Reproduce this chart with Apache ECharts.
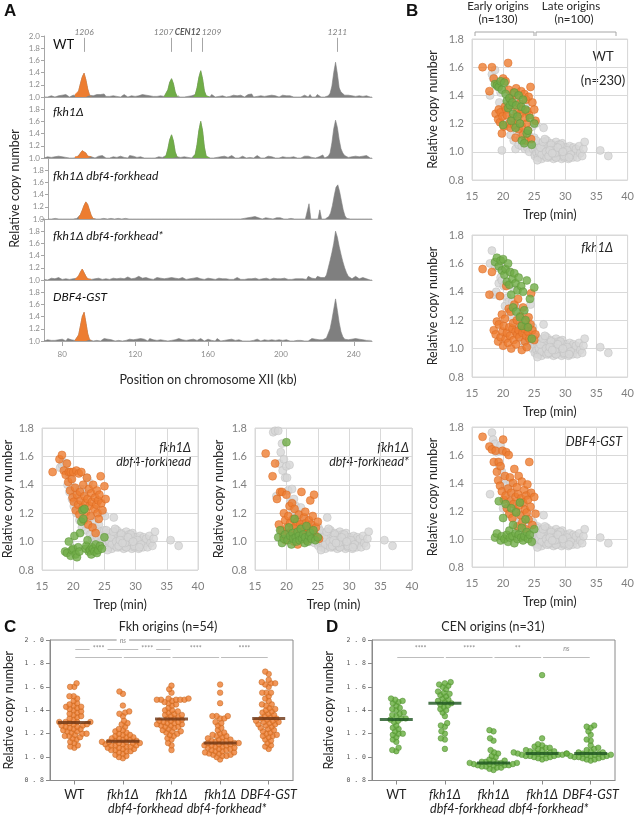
<!DOCTYPE html>
<html>
<head>
<meta charset="utf-8">
<script src="https://cdn.jsdelivr.net/npm/echarts@6/dist/echarts.min.js"></script>
<style>
  html, body { margin: 0; padding: 0; background: #fff; }
  #main { width: 637px; height: 815px; }
</style>
</head>
<body>
<div id="main"></div>
<script>
// ---------- panel A : copy number along chromosome XII (1 kb bins from 70 kb) ----------
const kbStart = 70;
const kbTicks = [80, 120, 160, 200, 240];
const trackLabels = ['WT', 'fkh1Δ', 'fkh1Δ dbf4-forkhead', 'fkh1Δ dbf4-forkhead*', 'DBF4-GST'];
const originNames = ['1206', '1207', 'CEN12', '1209', '1211'];
const originKb = [92, 140, 151, 157, 231];

const trackWT = [
  1.00,1.01,1.00,1.00,1.02,1.01,1.00,1.03,1.02,1.04,
  1.03,1.01,1.04,1.02,1.00,1.01,1.03,1.04,1.02,1.10,
  1.22,1.33,1.39,1.28,1.13,1.03,1.00,1.02,1.03,1.04,
  1.02,1.04,1.03,1.05,1.01,1.00,1.01,1.00,1.02,1.00,
  1.01,1.03,1.00,1.02,1.04,1.01,1.00,1.03,1.02,1.00,
  1.01,1.00,1.02,1.03,1.04,1.01,1.03,1.00,1.02,1.00,
  1.01,1.04,1.01,1.00,1.02,1.00,1.01,1.03,1.12,1.24,
  1.30,1.22,1.08,1.01,1.02,1.00,1.01,1.00,1.02,1.01,
  1.00,1.02,1.00,1.04,1.15,1.32,1.43,1.30,1.10,1.02,
  1.03,1.00,1.04,1.01,1.00,1.03,1.01,1.00,1.02,1.01,
  1.00,1.02,1.01,1.00,1.03,1.01,1.02,1.00,1.03,1.01,
  1.00,1.02,1.04,1.01,1.05,1.00,1.02,1.01,1.00,1.02,
  1.04,1.01,1.00,1.02,1.01,1.03,1.00,1.02,1.01,1.00,
  1.01,1.03,1.00,1.02,1.05,1.02,1.01,1.00,1.03,1.00,
  1.01,1.00,1.02,1.03,1.01,1.00,1.04,1.00,1.01,1.00,
  1.04,1.01,1.00,1.02,1.00,1.01,1.02,1.06,1.18,1.40,
  1.57,1.38,1.15,1.08,1.06,1.03,1.01,1.03,1.00,1.02,
  1.03,1.01,1.00,1.02,1.03,1.01,1.04,1.02,1.01,1.00,
  1.00
];
const trackFkh1 = [
  1.00,1.01,1.02,1.00,1.01,1.00,1.02,1.01,1.03,1.04,
  1.02,1.03,1.01,1.04,1.00,1.01,1.00,1.02,1.01,1.03,
  1.08,1.12,1.13,1.08,1.03,1.00,1.02,1.01,1.00,1.01,
  1.03,1.01,1.04,1.02,1.00,1.01,1.00,1.03,1.02,1.00,
  1.01,1.02,1.03,1.00,1.01,1.03,1.00,1.04,1.01,1.03,
  1.04,1.01,1.00,1.02,1.01,1.00,1.02,1.00,1.01,1.00,
  1.03,1.00,1.01,1.02,1.00,1.01,1.00,1.04,1.15,1.30,
  1.38,1.28,1.10,1.02,1.00,1.01,1.00,1.02,1.00,1.01,
  1.03,1.00,1.02,1.06,1.22,1.45,1.60,1.45,1.18,1.03,
  1.01,1.00,1.02,1.00,1.03,1.01,1.00,1.02,1.01,1.03,
  1.00,1.01,1.02,1.04,1.01,1.00,1.02,1.00,1.01,1.03,
  1.01,1.00,1.02,1.01,1.03,1.00,1.02,1.04,1.01,1.00,
  1.02,1.00,1.01,1.03,1.00,1.02,1.01,1.00,1.03,1.00,
  1.01,1.02,1.00,1.01,1.03,1.01,1.00,1.02,1.01,1.00,
  1.02,1.00,1.01,1.03,1.04,1.03,1.00,1.01,1.02,1.00,
  1.01,1.02,1.00,1.05,1.00,1.02,1.03,1.08,1.25,1.48,
  1.62,1.50,1.30,1.15,1.08,1.04,1.02,1.01,1.00,1.02,
  1.01,1.03,1.00,1.02,1.05,1.03,1.01,1.04,1.02,1.00,
  1.00
];
const trackDbf4fh = [
  1.00,1.01,1.00,1.02,1.01,1.02,1.00,1.01,1.00,1.00,
  1.00,1.01,1.00,1.00,1.00,1.00,1.01,1.03,1.07,1.14,
  1.22,1.28,1.24,1.15,1.06,1.01,1.00,1.00,1.01,1.00,
  1.00,1.01,1.00,1.00,1.00,1.01,1.00,1.00,1.00,1.01,
  1.00,1.00,1.00,1.01,1.00,1.00,1.00,1.00,1.00,1.00,
  1.00,1.00,1.01,1.00,1.00,1.00,1.00,1.00,1.00,1.00,
  1.00,1.00,1.00,1.00,1.00,1.00,1.00,1.00,1.00,1.00,
  1.00,1.00,1.00,1.00,1.00,1.00,1.00,1.00,1.00,1.00,
  1.00,1.00,1.00,1.00,1.00,1.00,1.00,1.00,1.00,1.00,
  1.00,1.00,1.00,1.00,1.00,1.00,1.00,1.00,1.00,1.00,
  1.00,1.00,1.00,1.00,1.00,1.00,1.00,1.00,1.00,1.01,
  1.01,1.02,1.01,1.03,1.02,1.04,1.03,1.02,1.01,1.00,
  1.01,1.02,1.03,1.01,1.02,1.00,1.03,1.02,1.04,1.02,
  1.01,1.00,1.01,1.00,1.02,1.01,1.00,1.00,1.00,1.00,
  1.00,1.00,1.01,1.00,1.00,1.25,1.00,1.00,1.00,1.00,
  1.00,1.15,1.00,1.00,1.00,1.00,1.04,1.10,1.22,1.38,
  1.52,1.56,1.45,1.30,1.15,1.05,1.01,1.00,1.00,1.00,
  1.00,1.00,1.00,1.01,1.00,1.00,1.00,1.01,1.00,1.00,
  1.00
];
const trackDbf4fhStar = [
  1.01,1.02,1.00,1.01,1.03,1.01,1.02,1.00,1.04,1.02,
  1.01,1.03,1.02,1.04,1.01,1.00,1.02,1.01,1.03,1.07,
  1.13,1.18,1.12,1.06,1.02,1.03,1.01,1.04,1.02,1.01,
  1.03,1.02,1.01,1.03,1.02,1.04,1.01,1.02,1.03,1.01,
  1.02,1.04,1.03,1.01,1.02,1.04,1.05,1.03,1.02,1.01,
  1.03,1.04,1.06,1.05,1.03,1.02,1.04,1.03,1.02,1.03,
  1.01,1.03,1.04,1.02,1.03,1.04,1.02,1.01,1.03,1.02,
  1.04,1.02,1.03,1.01,1.02,1.03,1.04,1.02,1.01,1.03,
  1.02,1.01,1.03,1.02,1.04,1.01,1.02,1.03,1.01,1.02,
  1.03,1.01,1.02,1.04,1.01,1.02,1.03,1.01,1.02,1.01,
  1.02,1.03,1.01,1.02,1.01,1.03,1.04,1.02,1.01,1.02,
  1.01,1.03,1.02,1.01,1.02,1.01,1.03,1.02,1.01,1.03,
  1.02,1.01,1.03,1.02,1.01,1.02,1.03,1.01,1.02,1.01,
  1.02,1.01,1.03,1.02,1.01,1.02,1.01,1.03,1.02,1.01,
  1.02,1.01,1.02,1.03,1.01,1.06,1.05,1.03,1.04,1.02,
  1.06,1.05,1.04,1.06,1.04,1.08,1.20,1.32,1.45,1.60,
  1.80,1.70,1.55,1.42,1.30,1.20,1.12,1.06,1.03,1.02,
  1.04,1.06,1.03,1.02,1.05,1.04,1.03,1.02,1.01,1.00,
  1.00
];
const trackGst = [
  1.00,1.01,1.02,1.00,1.01,1.03,1.01,1.00,1.02,1.01,
  1.03,1.02,1.00,1.04,1.01,1.02,1.00,1.01,1.03,1.10,
  1.25,1.40,1.47,1.30,1.12,1.02,1.01,1.00,1.02,1.01,
  1.03,1.00,1.02,1.04,1.01,1.03,1.00,1.02,1.01,1.00,
  1.02,1.01,1.03,1.00,1.02,1.01,1.00,1.03,1.04,1.02,
  1.05,1.03,1.02,1.04,1.01,1.03,1.02,1.00,1.04,1.01,
  1.02,1.03,1.01,1.00,1.02,1.04,1.01,1.03,1.00,1.02,
  1.01,1.03,1.02,1.00,1.04,1.01,1.02,1.03,1.01,1.00,
  1.02,1.01,1.03,1.00,1.01,1.02,1.04,1.01,1.00,1.02,
  1.03,1.00,1.01,1.02,1.00,1.04,1.01,1.00,1.02,1.01,
  1.00,1.02,1.01,1.03,1.00,1.01,1.00,1.02,1.01,1.00,
  1.02,1.00,1.01,1.00,1.02,1.01,1.00,1.03,1.01,1.00,
  1.01,1.02,1.00,1.01,1.00,1.02,1.00,1.01,1.00,1.02,
  1.00,1.01,1.00,1.02,1.01,1.00,1.01,1.00,1.02,1.01,
  1.00,1.01,1.02,1.00,1.01,1.00,1.02,1.04,1.05,1.03,
  1.04,1.02,1.01,1.02,1.03,1.05,1.08,1.20,1.35,1.52,
  1.69,1.50,1.30,1.15,1.07,1.03,1.01,1.02,1.00,1.03,
  1.02,1.04,1.01,1.03,1.04,1.02,1.03,1.01,1.00,1.01,
  1.00
];
const tracks = [trackWT, trackFkh1, trackDbf4fh, trackDbf4fhStar, trackGst];
// coloured peak stretches (kb)
const peakFrom = [87, 136, 152];
const peakTo = [96, 144, 161];

// ---------- panel B / C / D : per-origin replication data ----------
const strainNames = ['WT', 'fkh1Δ', 'fkh1Δ\ndbf4-forkhead', 'fkh1Δ\ndbf4-forkhead*', 'DBF4-GST'];

// Fkh-activated origins (n=54)
const trepFkh = [16.7,17.8,18.2,18.5,18.8,19.0,19.2,19.3,19.5,19.6,19.8,19.9,20.0,20.1,20.3,20.4,20.5,20.6,20.8,20.9,
  21.0,21.1,21.2,21.3,21.5,21.6,21.7,21.8,22.0,22.1,22.2,22.3,22.4,22.5,22.6,22.8,22.9,23.0,23.1,23.2,
  23.4,23.5,23.6,23.7,23.8,23.9,24.0,24.1,24.2,24.4,24.5,24.7,25.0,25.2];
const fkhWT = [1.60,1.43,1.60,1.52,1.27,1.48,1.23,1.30,1.21,1.28,1.13,1.25,1.52,1.18,1.32,1.50,1.30,1.26,1.63,1.44,
  1.20,1.38,1.17,1.36,1.24,1.33,1.42,1.19,1.10,1.45,1.28,1.22,1.40,1.16,1.34,1.27,1.43,1.18,1.30,1.12,
  1.41,1.24,1.08,1.37,1.20,1.29,1.15,1.39,1.26,1.46,1.09,1.35,1.30,1.22];
const fkhFkh1 = [1.56,1.38,1.54,1.13,1.10,1.19,1.05,1.17,1.37,1.08,1.24,1.12,1.02,1.16,1.21,1.07,1.44,1.11,1.04,1.28,
  1.15,1.09,1.26,1.00,1.14,1.18,1.06,1.31,1.12,1.03,1.20,1.10,1.35,1.13,1.08,1.23,1.16,0.99,1.11,1.29,
  1.14,1.05,1.19,1.09,1.01,1.15,1.12,1.22,1.07,1.17,1.39,1.13,1.06,1.10];
const fkhDbf4fh = [1.49,1.58,1.61,1.50,1.47,1.55,1.42,1.49,1.36,1.49,1.44,1.31,1.49,1.28,1.38,1.22,1.50,1.33,1.26,1.48,
  1.19,1.35,1.29,1.49,1.24,1.40,1.15,1.32,1.27,1.21,1.45,1.30,1.12,1.37,1.25,1.18,1.34,1.28,1.10,1.40,
  1.23,1.31,1.06,1.26,1.36,1.20,1.29,1.16,1.33,1.46,1.27,1.22,1.39,1.30];
const fkhDbf4fhStar = [1.62,1.46,1.55,1.30,1.12,1.35,1.08,1.35,1.04,1.20,1.15,1.01,1.33,1.10,1.18,1.06,1.25,1.13,1.03,1.27,
  1.09,1.16,1.00,1.23,1.11,1.05,1.14,0.98,1.19,1.07,1.12,1.02,1.35,1.10,1.04,1.17,1.08,1.21,1.13,1.01,
  1.11,1.06,1.15,1.09,1.29,1.03,1.12,1.07,1.18,1.33,1.05,1.10,1.14,1.02];
const fkhGst = [1.73,1.66,1.64,1.55,1.63,1.48,1.42,1.55,1.38,1.52,1.34,1.63,1.71,1.28,1.45,1.31,1.62,1.22,1.36,1.60,
  1.18,1.44,1.27,1.33,1.15,1.40,1.25,1.50,1.30,1.20,1.37,1.09,1.32,1.45,1.24,1.17,1.29,1.41,1.12,1.26,
  1.35,1.21,1.07,1.31,1.19,1.39,1.28,1.14,1.55,1.23,1.33,1.10,1.30,1.18];

// centromere-proximal origins (n=31)
const trepCen = [18.7,19.0,19.3,19.6,19.8,20.0,20.2,20.4,20.6,20.8,21.0,21.1,21.3,21.5,21.6,21.8,22.0,22.1,22.3,22.5,
  22.7,22.9,23.0,23.2,23.4,23.6,23.8,24.0,24.3,24.6,25.0];
const cenWT = [1.48,1.47,1.46,1.50,1.44,1.19,1.49,1.41,1.36,1.31,1.38,1.33,1.22,1.35,1.27,1.42,1.17,1.33,1.25,1.40,
  1.20,1.32,1.08,1.37,1.06,1.30,1.13,1.15,1.24,1.05,1.20];
const cenFkh1 = [1.61,1.64,1.58,1.62,1.55,1.63,1.52,1.56,1.47,1.60,1.45,1.54,1.38,1.49,1.29,1.53,1.46,1.26,1.41,1.50,
  1.22,1.44,1.16,1.40,1.27,1.20,1.48,1.15,1.35,1.07,1.43];
const cenDbf4fh = [0.93,0.92,1.00,0.90,0.94,0.95,1.04,0.91,0.89,0.96,0.93,1.06,1.14,1.22,1.16,1.23,0.95,0.97,1.01,0.93,
  0.94,0.91,0.96,0.95,0.93,0.98,0.92,0.94,0.97,0.95,1.03];
const cenDbf4fhStar = [1.03,1.08,0.99,1.02,1.05,1.70,1.01,1.10,1.04,0.98,1.06,1.02,1.16,1.03,1.00,1.07,1.04,1.01,1.09,1.02,
  1.05,0.99,1.03,1.11,1.00,1.04,1.06,1.02,1.08,1.01,1.03];
const cenGst = [1.01,1.04,1.27,0.99,1.02,1.15,1.00,1.25,1.03,0.98,1.06,1.01,1.22,1.02,1.10,0.97,1.04,1.19,1.00,1.03,
  1.26,1.01,1.08,0.99,1.02,1.14,1.05,1.00,1.03,0.98,1.07];

// other early origins (grey, n=45)
const trepEarly = [17.9,18.2,18.4,18.7,18.9,19.1,19.3,19.4,19.6,19.8,20.0,20.1,20.3,20.5,20.7,20.9,21.0,21.2,21.4,21.5,
  21.7,21.9,22.0,22.2,22.3,22.5,22.7,22.8,23.0,23.1,23.3,23.5,23.6,23.8,23.9,24.1,24.2,24.4,24.5,24.7,
  24.8,25.0,25.1,25.3,25.5];
const earlyWT = [1.40,1.55,1.52,1.58,1.50,1.46,1.48,1.35,1.42,1.01,1.30,1.45,1.24,1.34,1.18,1.40,1.28,1.12,1.22,1.36,
  1.08,1.26,1.02,1.15,1.38,1.05,1.20,1.10,1.04,1.14,1.06,1.02,1.33,1.09,1.03,1.12,1.00,1.07,1.05,1.18,
  1.02,1.10,0.98,1.20,1.04];
const earlyFkh1 = [1.60,1.69,1.38,1.58,1.40,1.57,1.46,1.37,1.50,1.48,1.57,1.44,1.30,1.45,1.36,1.33,1.26,1.54,1.22,1.33,
  1.42,1.18,1.30,1.15,1.12,1.26,1.08,1.20,1.14,1.05,1.25,1.10,1.02,1.08,1.20,1.04,1.12,1.31,1.06,1.00,
  1.15,1.03,1.08,0.97,1.05];
const earlyDbf4fh = [1.52,1.54,1.56,1.50,1.55,1.40,1.47,1.35,1.44,1.30,1.38,1.25,1.33,1.20,1.28,1.36,1.15,1.37,1.10,1.22,
  1.35,1.18,1.08,1.45,1.12,1.42,1.05,1.17,1.02,1.10,1.14,1.06,1.00,1.09,1.03,1.12,0.99,1.07,1.04,1.20,
  1.01,1.08,1.18,1.03,1.06];
const earlyDbf4fhStar = [1.77,1.78,1.32,1.78,1.55,1.63,1.69,1.50,1.58,1.45,1.53,1.45,1.36,1.54,1.28,1.37,1.22,1.30,1.18,1.25,
  1.12,1.20,1.15,1.08,1.24,1.10,1.05,1.17,1.02,1.12,1.07,1.04,1.14,1.00,1.09,1.06,1.02,1.11,0.99,1.05,
  1.08,1.01,1.10,1.03,1.06];
const earlyGst = [1.32,1.76,1.71,1.68,1.62,1.55,1.63,1.52,1.67,1.48,1.22,1.43,1.38,1.30,1.36,1.28,1.18,1.40,1.25,1.15,
  1.33,1.20,1.10,1.27,1.12,1.05,1.18,1.08,1.14,1.03,1.25,1.07,1.10,1.02,1.16,1.05,1.32,1.00,1.08,1.04,
  1.12,0.99,1.06,1.02,1.09];

// late origins (grey, n=100) — unchanged between strains
const trepLate = [25.1,25.2,25.3,25.4,25.5,25.6,25.7,25.8,25.9,26.0,26.1,26.2,26.3,26.4,26.5,26.6,26.7,26.8,26.9,27.0,
  27.1,27.2,27.3,27.4,27.5,27.6,27.7,27.8,27.9,28.0,28.1,28.2,28.3,28.4,28.5,28.6,28.7,28.8,28.9,29.0,
  25.3,25.8,26.2,26.6,27.0,27.4,27.8,28.2,28.6,29.0,29.1,29.2,29.3,29.4,29.5,29.6,29.7,29.8,29.9,30.0,
  25.5,26.0,26.4,26.9,27.3,27.7,28.1,28.5,28.9,29.4,30.1,30.2,30.4,30.5,30.7,30.8,31.0,31.2,31.3,31.5,
  26.7,27.5,28.3,29.2,29.8,30.3,30.9,31.7,31.9,32.2,32.4,32.7,32.9,33.1,35.6,36.9,27.9,28.8,29.6,30.6];
const cnLate = [0.97,1.02,1.05,0.99,1.03,0.96,1.01,1.04,0.98,1.06,1.00,0.95,1.03,0.99,1.17,1.02,0.97,1.05,1.00,1.08,
  0.98,1.03,0.96,1.01,1.04,0.99,1.06,0.97,1.02,1.00,0.95,1.04,0.98,1.01,1.07,0.96,1.03,0.99,1.05,1.00,
  1.08,1.00,0.98,1.04,0.96,1.02,1.00,0.97,1.03,0.99,1.04,0.97,1.01,0.95,1.06,0.99,1.03,0.96,1.02,0.98,
  0.94,1.03,1.07,1.00,0.97,1.05,1.01,0.96,1.00,1.02,1.03,0.97,1.00,0.95,1.04,0.98,1.01,0.96,1.03,0.99,
  1.09,1.01,0.99,1.05,0.97,1.01,0.98,1.02,0.96,1.04,0.99,0.97,1.02,1.07,1.01,0.97,0.99,1.03,1.00,0.96];

const fkhByStrain = [fkhWT, fkhFkh1, fkhDbf4fh, fkhDbf4fhStar, fkhGst];
const cenByStrain = [cenWT, cenFkh1, cenDbf4fh, cenDbf4fhStar, cenGst];
const earlyByStrain = [earlyWT, earlyFkh1, earlyDbf4fh, earlyDbf4fhStar, earlyGst];

// ---------- styling ----------
const ORANGE = '#ED7D31', GREEN = '#70AD47', GREY = '#7f7f7f';
const FONT = 'Lato';

const grids = [], xAxes = [], yAxes = [], series = [];

// panel A tracks
tracks.forEach((tr, i) => {
  grids.push({ left: 44, width: 328, top: 36 + 61 * i, height: 61 });
  const last = i === tracks.length - 1;
  xAxes.push({
    gridIndex: i, type: 'value', min: 70, max: 250,
    axisLine: { show: true, onZero: false, lineStyle: { color: '#a6a6a6', width: 1 } },
    axisTick: { show: last, customValues: kbTicks, length: 5, lineStyle: { color: '#a6a6a6' } },
    axisLabel: { show: last, customValues: kbTicks, fontSize: 8, color: '#8c8c8c', margin: 9, fontFamily: FONT },
    splitLine: { show: false },
    name: last ? 'Position on chromosome XII (kb)' : '',
    nameLocation: 'middle', nameGap: 32,
    nameTextStyle: { fontSize: 12.5, color: '#262626', fontFamily: FONT }
  });
  yAxes.push({
    gridIndex: i, type: 'value', min: 1, max: 2, interval: 0.2,
    axisLine: { show: true, onZero: false, lineStyle: { color: '#a6a6a6' } },
    axisTick: { show: true, length: 3, lineStyle: { color: '#a6a6a6' } },
    axisLabel: { fontSize: 8, color: '#8c8c8c', margin: 4, fontFamily: FONT,
      formatter: v => (i > 0 && v > 1.9) ? '' : v.toFixed(1) },
    splitLine: { show: false },
    name: i === 2 ? 'Relative copy number' : '',
    nameLocation: 'middle', nameGap: 27,
    nameTextStyle: { fontSize: 12.5, color: '#262626', fontFamily: FONT }
  });
  const pts = tr.map((v, k) => [kbStart + k, v]);
  const s = {
    type: 'line', xAxisIndex: i, yAxisIndex: i, data: pts, symbol: 'none',
    lineStyle: { width: 0.6, color: GREY }, areaStyle: { color: GREY, opacity: 1, origin: 'start' }, z: 2
  };
  if (i === 0) {
    s.markLine = {
      silent: true, symbol: 'none', animation: false,
      lineStyle: { color: '#a6a6a6', width: 1, type: 'solid' },
      label: { show: true, position: 'end', distance: 1, formatter: '{b}', color: '#7f7f7f',
        fontSize: 8.5, fontStyle: 'italic', fontFamily: FONT },
      data: originNames.map((n, k) => {
        const lab = { offset: [[0, 0], [-8, 0], [-4, 0], [9, 0], [0, 0]][k] };
        if (n === 'CEN12') { lab.fontWeight = 'bold'; lab.color = '#595959'; }
        return [{ coord: [originKb[k], 1.74], name: n, label: lab }, { coord: [originKb[k], 1.97] }];
      })
    };
  }
  series.push(s);
  // coloured peaks
  const overlay = [[0, ORANGE, [0, 1, 2, 3, 4]], [1, GREEN, [0, 1]], [2, GREEN, [0, 1]]];
  overlay.forEach(([p, col, tl]) => {
    if (!tl.includes(i)) return;
    series.push({
      type: 'line', xAxisIndex: i, yAxisIndex: i, symbol: 'none', z: 3,
      data: pts.filter(d => d[0] >= peakFrom[p] && d[0] <= peakTo[p]),
      lineStyle: { width: 0.6, color: col }, areaStyle: { color: col, opacity: 1, origin: 'start' }
    });
  });
});

// scatter plots: [left, top, width, height, strain, yNameGap]
const scatterBoxes = [
  [472, 39, 156, 141, 0, 33],
  [472, 235, 156, 142, 1, 33],
  [472, 427, 156, 140, 4, 33],
  [42, 428, 156, 142, 2, 25],
  [255, 428, 157, 142, 3, 30]
];
scatterBoxes.forEach(([l, t, w, h, st, gap]) => {
  const gi = grids.length;
  grids.push({ left: l, top: t, width: w, height: h, show: true, borderColor: '#d9d9d9', borderWidth: 1 });
  xAxes.push({
    gridIndex: gi, type: 'value', min: 15, max: 40, interval: 5,
    axisLine: { show: false, onZero: false }, axisTick: { show: false },
    axisLabel: { color: '#7f7f7f', fontSize: 11, margin: 11, fontFamily: FONT },
    splitLine: { show: true, lineStyle: { color: '#d9d9d9' } },
    name: 'Trep (min)', nameLocation: 'middle', nameGap: 28,
    nameTextStyle: { fontSize: 12.5, color: '#262626', fontFamily: FONT }
  });
  yAxes.push({
    gridIndex: gi, type: 'value', min: 0.8, max: 1.8, interval: 0.2,
    axisLine: { show: false, onZero: false }, axisTick: { show: false },
    axisLabel: { color: '#7f7f7f', fontSize: 11, margin: 8, fontFamily: FONT, formatter: v => v.toFixed(1) },
    splitLine: { show: true, lineStyle: { color: '#d9d9d9' } },
    name: 'Relative copy number', nameLocation: 'middle', nameGap: gap,
    nameTextStyle: { fontSize: 12.5, color: '#262626', fontFamily: FONT }
  });
  const grey = trepEarly.map((x, k) => [x, earlyByStrain[st][k]])
    .concat(trepLate.map((x, k) => [x, cnLate[k]]));
  const base = { type: 'scatter', xAxisIndex: gi, yAxisIndex: gi, symbolSize: 8 };
  series.push(Object.assign({}, base, { data: grey, z: 2,
    itemStyle: { color: '#d6d6d6', borderColor: '#bdbdbd', borderWidth: 0.6 } }));
  series.push(Object.assign({}, base, { data: trepFkh.map((x, k) => [x, fkhByStrain[st][k]]), z: 3,
    itemStyle: { color: ORANGE, borderColor: '#d9671f', borderWidth: 0.6 } }));
  series.push(Object.assign({}, base, { data: trepCen.map((x, k) => [x, cenByStrain[st][k]]), z: 4,
    itemStyle: { color: GREEN, borderColor: '#5a9437', borderWidth: 0.6 } }));
});

// beeswarm layout (pixel space); d is the packing distance
function swarm(values, col, pxY, pxX, d) {
  const sorted = values.slice().sort((a, b) => a - b);
  const placed = [];
  sorted.forEach(v => {
    const y = v * pxY;
    const forb = [];
    placed.forEach(q => {
      const dy = Math.abs(q.y - y);
      if (dy < d) { const dx = Math.sqrt(d * d - dy * dy); forb.push([q.x - dx, q.x + dx]); }
    });
    const cands = [0];
    forb.forEach(f => cands.push(f[0], f[1]));
    cands.sort((a, b) => Math.abs(a) - Math.abs(b));
    let x = 0;
    for (const c of cands) {
      if (forb.every(f => c <= f[0] + 1e-6 || c >= f[1] - 1e-6)) { x = c; break; }
    }
    placed.push({ x, y, v });
  });
  return placed.map(p => [col + p.x / pxX, p.v]);
}
const median = arr => { const s = arr.slice().sort((a, b) => a - b); const m = s.length >> 1; return s.length % 2 ? s[m] : (s[m - 1] + s[m]) / 2; };

const sigC = [[0, 2, 1.923, 'ns'], [0, 1, 1.855, '****'], [1, 2, 1.855, '****'], [2, 3, 1.855, '****'], [3, 4, 1.855, '****']];
const sigD = [[0, 1, 1.855, '****'], [1, 2, 1.855, '****'], [2, 3, 1.855, '**'], [3, 4, 1.855, 'ns']];

const catRich = {
  n: { fontSize: 12.5, color: '#222', fontFamily: FONT, lineHeight: 14 },
  i: { fontSize: 12.5, color: '#222', fontFamily: FONT, fontStyle: 'italic', lineHeight: 14 },
  l: { fontSize: 12.5, color: '#222', fontFamily: FONT, fontStyle: 'italic', lineHeight: 14, padding: [0, 52, 0, 0] },
  r: { fontSize: 12.5, color: '#222', fontFamily: FONT, fontStyle: 'italic', lineHeight: 14, padding: [0, 0, 0, 13] }
};
function catLabel(v, idx) {
  if (idx === 0) return '{n|' + v + '}';
  const parts = v.split('\n');
  if (parts.length === 1) return '{i|' + v + '}';
  return '{i|' + parts[0] + '}\n' + (idx === 2 ? '{l|' : '{r|') + parts[1] + '}';
}

[[50, ORANGE, '#c0641c', '#6b3514', fkhByStrain, sigC, 35],
 [372, '#66AE3E', '#4c8a2c', '#1d5420', cenByStrain, sigD, 37]].forEach(([l, fill, border, medCol, groups, sig, gap]) => {
  const gi = grids.length;
  grids.push({ left: l, top: 640, width: 243, height: 141, show: true, borderColor: '#8a8a8a', borderWidth: 1 });
  xAxes.push({
    gridIndex: gi, type: 'category', data: strainNames,
    axisLine: { show: true, onZero: false, lineStyle: { color: '#8a8a8a' } },
    axisTick: { show: true, alignWithLabel: true, length: 4, lineStyle: { color: '#8a8a8a' } },
    axisLabel: { interval: 0, margin: 7, formatter: catLabel, rich: catRich }
  });
  const xVal = xAxes.length;
  xAxes.push({ gridIndex: gi, type: 'value', min: -0.5, max: 4.5, show: false });
  const yi = yAxes.length;
  yAxes.push({
    gridIndex: gi, type: 'value', min: 0.8, max: 2.0, interval: 0.2,
    axisLine: { show: true, onZero: false, lineStyle: { color: '#8a8a8a' } },
    axisTick: { show: true, length: 4, lineStyle: { color: '#8a8a8a' } },
    axisLabel: { fontSize: 6.5, color: '#555', fontFamily: 'DejaVu Sans Mono', margin: 6,
      formatter: v => v.toFixed(1).split('').join(' ') },
    splitLine: { show: false },
    name: 'Relative copy number', nameLocation: 'middle', nameGap: gap,
    nameTextStyle: { fontSize: 12.5, color: '#262626', fontFamily: FONT }
  });
  const pts = [];
  groups.forEach((g, c) => swarm(g, c, 117.5, 48.6, 4.2).forEach(p => pts.push(p)));
  series.push({ type: 'scatter', xAxisIndex: xVal, yAxisIndex: yi, data: pts, symbolSize: 5.6, z: 2,
    itemStyle: { color: fill, borderColor: border, borderWidth: 0.6 } });
  series.push({
    type: 'scatter', xAxisIndex: xVal, yAxisIndex: yi, symbol: 'rect', symbolSize: [33, 3], z: 4,
    data: groups.map((g, c) => [c, median(g)]), itemStyle: { color: medCol },
    markLine: {
      silent: true, symbol: 'none', animation: false,
      lineStyle: { color: '#bdbdbd', width: 1, type: 'solid' },
      label: { show: true, position: 'middle', fontSize: 7, color: '#8c8c8c', fontFamily: FONT,
        backgroundColor: '#fff', padding: [0, 3] },
      data: sig.map(([a, b, y, t]) => [
        { coord: [a + 0.02, y], label: { formatter: t, fontStyle: t === 'ns' ? 'italic' : 'normal' } },
        { coord: [b - 0.02, y] }
      ])
    }
  });
});

// ---------- annotations ----------
const txt = (x, y, text, font, align, fill) => ({
  type: 'text', x, y, silent: true,
  style: { text, font, fill: fill || '#111', align: align || 'left', verticalAlign: 'middle' }
});
const graphic = [
  txt(4, 11, 'A', 'bold 17px Arial'),
  txt(406, 11, 'B', 'bold 17px Arial'),
  txt(4, 627, 'C', 'bold 17px Arial'),
  txt(326, 627, 'D', 'bold 17px Arial'),
  txt(53, 45, trackLabels[0], '13px ' + FONT),
  txt(53, 112, trackLabels[1], 'italic 12px ' + FONT),
  txt(53, 176, trackLabels[2], 'italic 12px ' + FONT),
  txt(53, 236, trackLabels[3], 'italic 12px ' + FONT),
  txt(53, 297, trackLabels[4], 'italic 12px ' + FONT),
  txt(498, 6, 'Early origins', '11.5px ' + FONT, 'center', '#262626'),
  txt(498, 19, '(n=130)', '11.5px ' + FONT, 'center', '#262626'),
  txt(571, 6, 'Late origins', '11.5px ' + FONT, 'center', '#262626'),
  txt(574, 19, '(n=100)', '11.5px ' + FONT, 'center', '#262626'),
  { type: 'polyline', silent: true, shape: { points: [[475, 36], [475, 32], [534, 32], [534, 36]] },
    style: { stroke: '#a6a6a6', lineWidth: 1, fill: null } },
  { type: 'polyline', silent: true, shape: { points: [[536, 36], [536, 32], [616, 32], [616, 36]] },
    style: { stroke: '#a6a6a6', lineWidth: 1, fill: null } },
  txt(603, 57, 'WT', '13px ' + FONT, 'center', '#262626'),
  txt(603, 81, '(n=230)', '13px ' + FONT, 'center', '#262626'),
  txt(613, 248, 'fkh1Δ', 'italic 12.5px ' + FONT, 'right', '#262626'),
  txt(622, 442, 'DBF4-GST', 'italic 12.5px ' + FONT, 'right', '#262626'),
  txt(191, 448, 'fkh1Δ', 'italic 12.5px ' + FONT, 'right', '#262626'),
  txt(191, 462, 'dbf4-forkhead', 'italic 12.5px ' + FONT, 'right', '#262626'),
  txt(409, 448, 'fkh1Δ', 'italic 12.5px ' + FONT, 'right', '#262626'),
  txt(409, 462, 'dbf4-forkhead*', 'italic 12.5px ' + FONT, 'right', '#262626'),
  txt(168, 627, 'Fkh origins (n=54)', '12.5px ' + FONT, 'center', '#262626'),
  txt(493, 627, 'CEN origins (n=31)', '12.5px ' + FONT, 'center', '#262626')
];

const chart = echarts.init(document.getElementById('main'));
chart.setOption({
  animation: false,
  backgroundColor: '#fff',
  textStyle: { fontFamily: FONT },
  grid: grids, xAxis: xAxes, yAxis: yAxes, series: series, graphic: graphic
});
</script>
</body>
</html>
